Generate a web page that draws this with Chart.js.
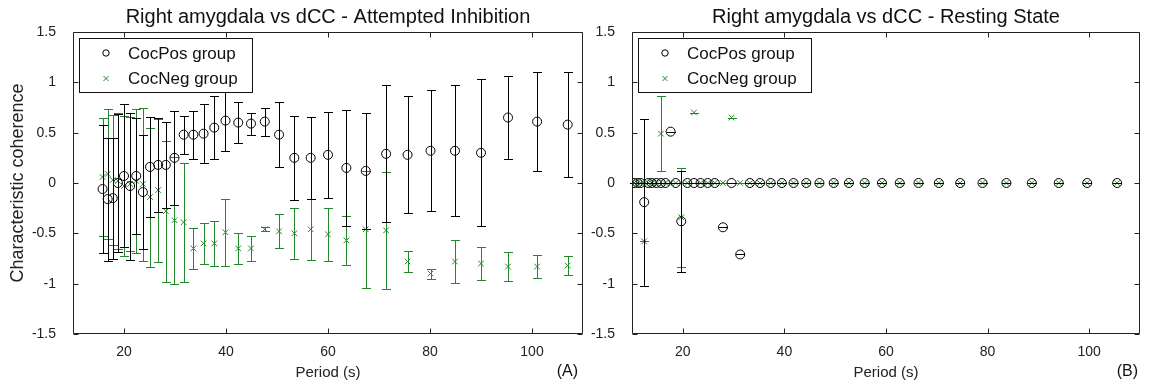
<!DOCTYPE html>
<html>
<head>
<meta charset="utf-8">
<script src="https://cdn.jsdelivr.net/npm/chart.js@4.4.1/dist/chart.umd.min.js"></script>
<style>
  body { margin: 0; background: #fff; }
  #page { position: relative; width: 1149px; height: 389px; overflow: hidden; }
  .panel { position: absolute; top: 0; }
</style>
</head>
<body>
<div id="page">
  <canvas id="chartA" class="panel" style="left:0" width="590" height="389"></canvas>
  <canvas id="chartB" class="panel" style="left:590px" width="559" height="389"></canvas>
</div>
<script>
// tick labels
const xTickValues = [20, 40, 60, 80, 100];
const yTickStep = 0.5;

// (A) Attempted Inhibition
const periodsA = [15.8, 16.8, 17.8, 18.8, 20.0, 21.2, 22.4, 23.7, 25.1, 26.7, 28.2, 29.9,
  31.7, 33.6, 35.6, 37.7, 39.9, 42.4, 44.9, 47.6, 50.4, 53.4, 56.6, 60.0, 63.6, 67.4,
  71.4, 75.6, 80.1, 84.9, 90.0, 95.3, 101.0, 107.0];
const cocPosA = [-0.06, -0.16, -0.15, 0.00, 0.07, -0.03, 0.07, -0.09, 0.16, 0.18, 0.18, 0.25,
  0.48, 0.48, 0.49, 0.55, 0.62, 0.60, 0.59, 0.61, 0.48, 0.25, 0.25, 0.28, 0.15, 0.12,
  0.29, 0.28, 0.32, 0.32, 0.30, 0.65, 0.61, 0.58];
const cocPosErrA = [0.64, 0.61, 0.60, 0.69, 0.71, 0.73, 0.58, 0.57, 0.50, 0.47, 0.43, 0.47,
  0.19, 0.24, 0.29, 0.31, 0.30, 0.20, 0.11, 0.14, 0.32, 0.42, 0.41, 0.43, 0.58, 0.58,
  0.68, 0.58, 0.60, 0.65, 0.73, 0.41, 0.49, 0.52];
const cocNegA = [0.06, 0.09, 0.03, 0.02, -0.03, -0.01, 0.02, -0.01, -0.14, -0.07, -0.28, -0.37,
  -0.39, -0.65, -0.60, -0.60, -0.49, -0.65, -0.65, -0.46, -0.48, -0.50, -0.46, -0.51, -0.57, -0.46,
  -0.47, -0.78, -0.90, -0.78, -0.80, -0.83, -0.83, -0.82];
const cocNegErrA = [0.59, 0.65, 0.65, 0.68, 0.70, 0.67, 0.72, 0.76, 0.69, 0.71, 0.70, 0.63,
  0.59, 0.20, 0.20, 0.22, 0.33, 0.15, 0.12, 0.02, 0.17, 0.25, 0.30, 0.26, 0.24, 0.58,
  0.58, 0.10, 0.05, 0.21, 0.16, 0.14, 0.11, 0.09];

// (B) Resting State
const periodsB = [10.4, 11.1, 11.7, 12.4, 13.2, 13.9, 14.8, 15.7, 16.6, 17.6, 18.6, 19.7,
  20.9, 22.2, 23.5, 24.9, 26.3, 27.9, 29.6, 31.3, 33.2, 35.2, 37.3, 39.5, 41.8, 44.3,
  46.9, 49.7, 52.7, 55.8, 59.2, 62.7, 66.4, 70.4, 74.6, 79.0, 83.7, 88.7, 94.0, 99.6, 105.5];
const cocPosB = [0, 0, 0, -0.19, 0, 0, 0, 0, 0, 0.51, 0, -0.38,
  0, 0, 0, 0, 0, -0.44, 0, -0.71, 0, 0, 0, 0, 0, 0,
  0, 0, 0, 0, 0, 0, 0, 0, 0, 0, 0, 0, 0, 0, 0];
const cocPosErrB = [0, 0, 0, 0.83, 0, 0, 0, 0, 0, 0, 0, 0.50,
  0, 0, 0, 0, 0, 0, 0, 0, 0, 0, 0, 0, 0, 0,
  0, 0, 0, 0, 0, 0, 0, 0, 0, 0, 0, 0, 0, 0, 0];
const cocNegB = [0, 0, 0, -0.58, 0, 0, 0, 0.49, 0, 0, 0, -0.34,
  0, 0.70, 0, 0, 0, 0, 0.65, 0, 0, 0, 0, 0, 0, 0,
  0, 0, 0, 0, 0, 0, 0, 0, 0, 0, 0, 0, 0, 0, 0];
const cocNegErrB = [0, 0, 0, 0, 0, 0, 0, 0.37, 0, 0, 0, 0.49,
  0, 0, 0, 0, 0, 0, 0, 0, 0, 0, 0, 0, 0, 0,
  0, 0, 0, 0, 0, 0, 0, 0, 0, 0, 0, 0, 0, 0, 0];

const seriesNames = ['CocPos group', 'CocNeg group'];
const titleA = 'Right amygdala vs dCC - Attempted Inhibition';
const titleB = 'Right amygdala vs dCC - Resting State';
const xLabel = 'Period (s)';
const yLabel = 'Characteristic coherence';

const FONT = '"Liberation Sans", Arial, Helvetica, sans-serif';
const GREEN = '#23882a';
const INK = '#000';

function points(xs, ys, errs) {
  return xs.map((x, i) => ({ x: x, y: ys[i], err: errs[i] }));
}

// MATLAB-like error bars: vertical line with caps, drawn just before each dataset's markers
const errorBars = {
  id: 'errorBars',
  beforeDatasetDraw(chart, args) {
    const ds = chart.data.datasets[args.index];
    const xs = chart.scales.x, ys = chart.scales.y;
    const ctx = chart.ctx;
    const cap = 4.5;
    ctx.save();
    ctx.strokeStyle = ds.borderColor;
    ctx.lineWidth = 1;
    ctx.beginPath();
    ds.data.forEach(p => {
      const px = Math.round(xs.getPixelForValue(p.x)) + 0.5;
      const top = Math.round(ys.getPixelForValue(p.y + p.err)) + 0.5;
      const bot = Math.round(ys.getPixelForValue(p.y - p.err)) + 0.5;
      ctx.moveTo(px, top); ctx.lineTo(px, bot);
      ctx.moveTo(px - cap, top); ctx.lineTo(px + cap, top);
      ctx.moveTo(px - cap, bot); ctx.lineTo(px + cap, bot);
    });
    ctx.stroke();
    ctx.restore();
  }
};

// box around the axes with inward ticks on all four sides, title, legend and panel tag
const axesBox = {
  id: 'axesBox',
  afterDraw(chart, args, opts) {
    const { ctx, chartArea: a } = chart;
    const xs = chart.scales.x, ys = chart.scales.y;
    const L = a.left + 0.5, R = a.right - 0.5, T = a.top + 0.5, B = a.bottom - 0.5;
    ctx.save();
    ctx.strokeStyle = '#222';
    ctx.lineWidth = 1;
    ctx.beginPath();
    ctx.rect(L, T, R - L, B - T);
    const tl = 5;
    xTickValues.forEach(v => {
      const px = Math.round(xs.getPixelForValue(v)) + 0.5;
      ctx.moveTo(px, B); ctx.lineTo(px, B - tl);
      ctx.moveTo(px, T); ctx.lineTo(px, T + tl);
    });
    ys.ticks.forEach(t => {
      const py = Math.round(ys.getPixelForValue(t.value)) + 0.5;
      ctx.moveTo(L, py); ctx.lineTo(L + tl, py);
      ctx.moveTo(R, py); ctx.lineTo(R - tl, py);
    });
    ctx.stroke();

    // title centred over the axes
    ctx.fillStyle = '#111';
    ctx.font = '20px ' + FONT;
    ctx.textAlign = 'center';
    ctx.textBaseline = 'middle';
    ctx.fillText(opts.title, (a.left + a.right) / 2, 17);

    // legend box in the upper left corner
    const bx = a.left + 6.5, by = a.top + 6.5, bw = 173, bh = 54;
    ctx.fillStyle = '#fff';
    ctx.fillRect(bx, by, bw, bh);
    ctx.strokeStyle = '#111';
    ctx.strokeRect(bx, by, bw, bh);
    ctx.font = '17px ' + FONT;
    ctx.textAlign = 'left';
    chart.data.datasets.forEach((ds, i) => {
      const my = a.top + 21 + i * 25.5;
      const mx = a.left + 33;
      ctx.strokeStyle = ds.borderColor;
      ctx.beginPath();
      if (ds.pointStyle === 'circle') {
        ctx.arc(mx, my, 3.2, 0, Math.PI * 2);
      } else {
        ctx.moveTo(mx - 2.5, my - 2.5); ctx.lineTo(mx + 2.5, my + 2.5);
        ctx.moveTo(mx - 2.5, my + 2.5); ctx.lineTo(mx + 2.5, my - 2.5);
      }
      ctx.stroke();
      ctx.fillStyle = '#111';
      ctx.fillText(ds.label, a.left + 55, my + 1);
    });

    // panel tag (A)/(B)
    ctx.font = '16px ' + FONT;
    ctx.textAlign = 'right';
    ctx.fillStyle = '#111';
    ctx.fillText(opts.tag, a.right + opts.tagShift, 372);
    ctx.restore();
  }
};

function makeChart(id, title, posPts, negPts, yWidth, padRight, showYLabel, tag, tagShift) {
  return new Chart(document.getElementById(id), {
    type: 'scatter',
    data: {
      datasets: [
        {
          label: seriesNames[0], data: posPts,
          pointStyle: 'circle', pointRadius: 4.5, pointHoverRadius: 4.5,
          borderColor: INK, backgroundColor: 'rgba(0,0,0,0)', borderWidth: 1
        },
        {
          label: seriesNames[1], data: negPts,
          pointStyle: 'crossRot', pointRadius: 4, pointHoverRadius: 4,
          borderColor: GREEN, backgroundColor: GREEN, borderWidth: 1
        }
      ]
    },
    options: {
      responsive: false,
      animation: false,
      devicePixelRatio: 1,
      layout: { padding: { left: 0, right: padRight, top: 32, bottom: 0 } },
      plugins: {
        legend: { display: false },
        tooltip: { enabled: false },
        title: { display: false },
        axesBox: { tag: tag, tagShift: tagShift, title: title }
      },
      scales: {
        x: {
          type: 'linear', min: 10, max: 110,
          afterBuildTicks: s => { s.ticks = xTickValues.map(v => ({ value: v })); },
          afterFit: s => { s.height = 55; },
          grid: { display: false },
          border: { display: false },
          ticks: { color: '#222', padding: 2, maxRotation: 0, font: { family: FONT, size: 14 } },
          title: {
            display: true, text: xLabel, color: '#222',
            font: { family: FONT, size: 15 }, padding: { top: 2, bottom: 7 }
          }
        },
        y: {
          type: 'linear', min: -1.5, max: 1.5,
          afterFit: s => { s.width = yWidth; },
          grid: { display: false },
          border: { display: false },
          ticks: {
            stepSize: yTickStep, color: '#222', padding: 9, font: { family: FONT, size: 14 },
            callback: v => String(Math.round(v * 10) / 10)
          },
          title: {
            display: showYLabel, text: yLabel, color: '#222',
            font: { family: FONT, size: 18 }, padding: { top: 7, bottom: 0 }
          }
        }
      }
    },
    plugins: [errorBars, axesBox]
  });
}

makeChart('chartA', titleA, points(periodsA, cocPosA, cocPosErrA), points(periodsA, cocNegA, cocNegErrA),
  73, 7, true, '(A)', -5);
makeChart('chartB', titleB, points(periodsB, cocPosB, cocPosErrB), points(periodsB, cocNegB, cocNegErrB),
  42, 9, false, '(B)', -2);
</script>
</body>
</html>
